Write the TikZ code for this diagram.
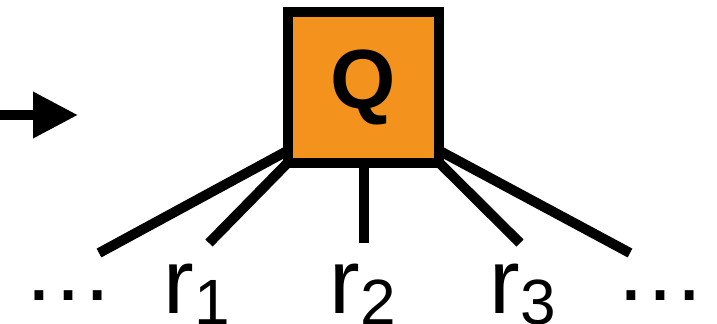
\documentclass[tikz,border=0pt]{standalone}
\usepackage{fontspec}
\setmainfont{Liberation Sans}
\usetikzlibrary{arrows.meta, backgrounds, positioning}
\definecolor{qorange}{HTML}{F3931E}
\tikzset{
    squarenode/.style = {draw, rectangle, fill=qorange, line width=5pt, minimum size=75.5pt,
      inner sep=0pt, outer sep=0pt, font=\bfseries\fontsize{42pt}{42pt}\selectfont},
    textnode/.style  = {draw=none, fill=none, rectangle, inner sep=0pt, anchor=base,
      font=\fontsize{46pt}{46pt}\selectfont},
    connect/.style = {black, line width=5pt},
    feed/.style = {black, line width=5pt, -{Triangle[length=22.5pt, width=22pt]}}
}
\newcommand{\rsub}[1]{r\raisebox{-5.5pt}{\fontsize{32pt}{32pt}\selectfont #1}}

\begin{document}
\begin{tikzpicture}[x=0.5pt, y=-0.5pt]
    \useasboundingbox (0,0) rectangle (717,323);

    \node [name=q, squarenode] at (363.5,87) {Q};

    % incoming arrow
    \coordinate (a0) at (0,115);
    \coordinate (a1) at (78,115);
    \draw [feed] (a0) -- (a1);

    % labels under the node
    \node [name=ldots, textnode] at (68,300) {…};
    \node [name=r1, textnode] at (196.5,313) {\rsub{1}};
    \node [name=r2, textnode] at (362.5,313) {\rsub{2}};
    \node [name=r3, textnode] at (522.5,313) {\rsub{3}};
    \node [name=rdots, textnode] at (660,300) {…};

    % free ends of the legs
    \coordinate (e0) at (99,253);
    \coordinate (e1) at (209,243);
    \coordinate (e2) at (363.5,243);
    \coordinate (e3) at (520,243);
    \coordinate (e4) at (630,253);

    \begin{scope}[on background layer]
        \draw [connect] ([yshift=6pt]q.south west) -- (e0);
        \draw [connect] (q.south west) -- (e1);
        \draw [connect] (q.south) -- (e2);
        \draw [connect] (q.south east) -- (e3);
        \draw [connect] ([yshift=6pt]q.south east) -- (e4);
    \end{scope}
\end{tikzpicture}
\end{document}
